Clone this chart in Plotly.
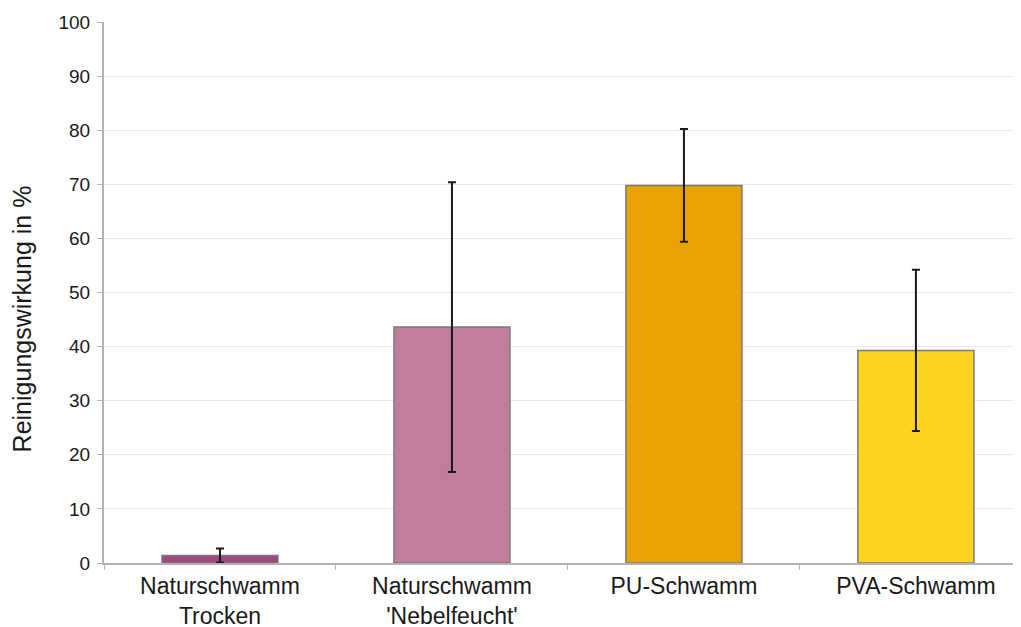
import plotly.graph_objects as go

categories = ["Naturschwamm<br>Trocken", "Naturschwamm<br>'Nebelfeucht'", "PU-Schwamm", "PVA-Schwamm"]
values = [1.4, 43.6, 69.8, 39.3]
errors = [1.3, 26.8, 10.4, 14.9]
colors = ["#A1467E", "#C07E9C", "#E8A202", "#FFD320"]
y_ticks = [0, 10, 20, 30, 40, 50, 60, 70, 80, 90, 100]

fig = go.Figure()
fig.add_trace(go.Bar(
    x=categories,
    y=values,
    width=0.5,
    marker=dict(color=colors, line=dict(color="#7a7a7a", width=1.5)),
    error_y=dict(type="data", array=errors, visible=True, color="#1a1a1a", thickness=2, width=4),
))

# page body has an 8px default margin, so the figure is sized to fit inside it
fig.update_layout(
    width=1013, height=619,
    margin=dict(l=96, r=0, t=14, b=64, autoexpand=False),
    paper_bgcolor="white", plot_bgcolor="white",
    showlegend=False,
    font=dict(family="Liberation Sans, Arial, sans-serif", color="#1a1a1a"),
    bargap=0.5,
)
fig.update_xaxes(
    range=[-0.5, 3.453],
    automargin=False,
    showline=True, linecolor="#b3b3b3", linewidth=2,
    ticks="outside", tickson="boundaries", ticklen=5, tickcolor="#b3b3b3",
    ticklabelstandoff=1,
    tickfont=dict(size=23, color="#1a1a1a"),
    showgrid=False,
)
fig.update_yaxes(
    range=[0, 100],
    automargin=False,
    tickvals=y_ticks,
    showline=True, linecolor="#b3b3b3", linewidth=2,
    ticks="outside", ticklen=5, tickcolor="#b3b3b3",
    ticklabelstandoff=3,
    tickfont=dict(size=19, color="#1a1a1a"),
    showgrid=True, gridcolor="#e6e6e6", gridwidth=1,
    zeroline=False,
)
fig.add_annotation(
    text="Reinigungswirkung in %", textangle=-90,
    xref="paper", yref="paper", x=-0.089, y=0.451,
    xanchor="center", yanchor="middle", showarrow=False,
    font=dict(size=25, color="#1a1a1a"),
)
fig.write_html("out.html")
